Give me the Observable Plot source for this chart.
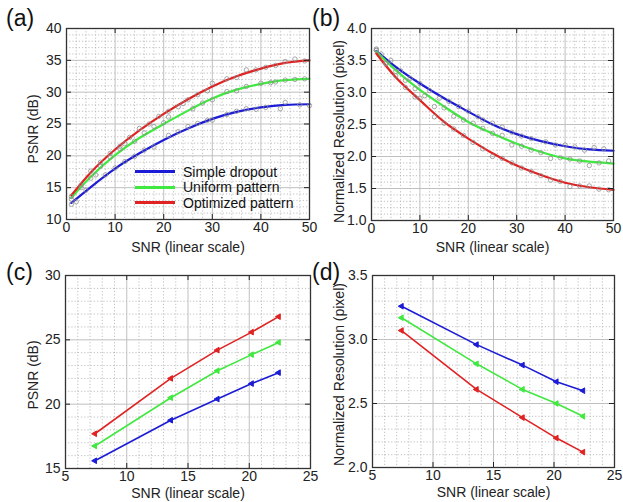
<!DOCTYPE html>
<html>
<head>
<meta charset="utf-8">
<script src="https://cdn.jsdelivr.net/npm/d3@7"></script>
<script src="https://cdn.jsdelivr.net/npm/@observablehq/plot@0.6"></script>
<style>
  html, body { margin: 0; padding: 0; background: #fff; }
  #root { position: relative; width: 623px; height: 502px; overflow: hidden; font-family: "Liberation Sans", Arial, sans-serif; }
  #root svg { position: absolute; overflow: visible; }
  .plabel { position: absolute; font-size: 23px; color: #111; line-height: 1; }
  .legend { position: absolute; font-size: 14px; color: #111; }
  .legend .row { display: flex; align-items: center; height: 15.5px; }
  .legend .sw { width: 40px; height: 3px; margin-right: 8px; }
</style>
</head>
<body>
<div id="root"></div>
<script>
// ---------- data ----------
const seriesNames = ["Simple dropout", "Uniform pattern", "Optimized pattern"];
const seriesColors = ["#1c1cd6", "#40e840", "#e02222"];

// (a) fitted PSNR curves vs SNR
const snrFit = [1, 5, 10, 15, 20, 25, 30, 35, 40, 45, 50];
const psnrSimple    = [12.6, 15.1, 18.0, 20.4, 22.5, 24.3, 25.8, 26.9, 27.6, 28.0, 28.1];
const psnrUniform   = [13.4, 16.7, 20.1, 22.8, 25.0, 27.1, 29.0, 30.4, 31.3, 31.9, 32.1];
const psnrOptimized = [13.8, 17.4, 21.0, 24.0, 26.6, 28.9, 30.9, 32.5, 33.7, 34.6, 35.0];

// (a) raw PSNR samples
const rawSnrSimpleA = [1, 2, 4, 6, 8, 10, 12, 14, 16, 18, 21, 23, 25, 27, 29, 30, 33, 35, 37, 39, 41, 44, 45, 48, 50];
const rawPsnrSimple = [12.4, 12.8, 14.6, 17.0, 17.0, 18.1, 19.1, 19.9, 20.9, 21.4, 23.2, 23.8, 24.6, 25.1, 25.6, 25.6, 26.5, 27.0, 27.4, 27.3, 27.6, 27.4, 28.4, 28.0, 27.9];
const rawSnrUniformA = [1, 3, 5, 7, 9, 11, 12, 14, 16, 18, 20, 21, 24, 26, 28, 30, 33, 35, 37, 40, 42, 43, 45, 47, 49];
const rawPsnrUniform = [13.2, 15.0, 16.5, 18.4, 19.8, 21.1, 21.9, 22.3, 23.6, 24.6, 25.2, 26.1, 28.2, 27.4, 28.3, 28.8, 30.1, 30.2, 30.9, 31.4, 31.5, 31.6, 31.9, 32.0, 32.1];
const rawSnrOptimizedA = [1, 3, 5, 7, 9, 11, 13, 15, 17, 19, 21, 23, 25, 27, 29, 30, 33, 35, 37, 39, 41, 43, 45, 47, 49];
const rawPsnrOptimized = [13.6, 15.4, 17.6, 19.0, 20.4, 21.5, 22.9, 24.3, 25.0, 26.2, 27.0, 27.7, 28.8, 29.6, 30.2, 31.4, 32.1, 32.3, 33.5, 33.5, 33.9, 34.2, 34.8, 35.2, 34.9];

// (b) fitted normalized resolution curves vs SNR
const resSimple    = [3.65, 3.40, 3.14, 2.91, 2.70, 2.50, 2.35, 2.24, 2.16, 2.11, 2.09];
const resUniform   = [3.64, 3.35, 3.04, 2.78, 2.54, 2.36, 2.20, 2.07, 1.97, 1.92, 1.89];
const resOptimized = [3.61, 3.24, 2.88, 2.54, 2.28, 2.05, 1.86, 1.71, 1.59, 1.52, 1.48];

// (b) raw resolution samples
const rawSnrSimpleB = [1, 2, 4, 6, 8, 10, 12, 14, 16, 18, 20, 22, 23, 25, 27, 29, 31, 33, 36, 38, 40, 42, 44, 46, 48];
const rawResSimple  = [3.68, 3.60, 3.50, 3.34, 3.22, 3.14, 3.03, 2.91, 2.86, 2.78, 2.71, 2.62, 2.57, 2.52, 2.46, 2.38, 2.32, 2.28, 2.23, 2.18, 2.18, 2.15, 2.10, 2.14, 2.12];
const rawSnrUniformB = [1, 3, 5, 7, 9, 11, 13, 15, 17, 19, 21, 23, 25, 27, 29, 31, 33, 35, 37, 39, 41, 43, 45, 47, 49];
const rawResUniform  = [3.66, 3.46, 3.33, 3.19, 3.06, 2.95, 2.78, 2.76, 2.63, 2.57, 2.52, 2.44, 2.36, 2.33, 2.18, 2.16, 2.10, 2.06, 1.97, 1.98, 1.96, 1.93, 1.86, 1.90, 1.93];
const rawSnrOptimizedB = [1, 3, 5, 7, 9, 10, 13, 15, 17, 19, 21, 23, 25, 27, 29, 31, 33, 35, 37, 39, 41, 43, 45, 47, 49];
const rawResOptimized  = [3.66, 3.45, 3.26, 3.08, 2.93, 2.91, 2.62, 2.52, 2.43, 2.33, 2.22, 2.12, 2.00, 1.97, 1.90, 1.82, 1.77, 1.70, 1.63, 1.61, 1.53, 1.54, 1.54, 1.49, 1.48];

// (c), (d) experimental points
const snrExp = [7.4, 13.6, 17.4, 20.2, 22.4];
const psnrExpSimple    = [15.6, 18.75, 20.4, 21.6, 22.45];
const psnrExpUniform   = [16.75, 20.5, 22.6, 23.85, 24.8];
const psnrExpOptimized = [17.7, 22.0, 24.2, 25.6, 26.8];
const resExpSimple    = [3.26, 2.96, 2.80, 2.67, 2.60];
const resExpUniform   = [3.17, 2.81, 2.61, 2.50, 2.40];
const resExpOptimized = [3.07, 2.61, 2.39, 2.23, 2.12];

// tick labels
const ticksSnr50 = [0, 10, 20, 30, 40, 50];
const ticksSnr25 = [5, 10, 15, 20, 25];
const ticksPsnrA = [10, 15, 20, 25, 30, 35, 40];
const ticksResB  = [1.0, 1.5, 2.0, 2.5, 3.0, 3.5, 4.0];
const ticksPsnrC = [15, 20, 25, 30];
const ticksResD  = [2.0, 2.5, 3.0, 3.5];

const xLabel = "SNR (linear scale)";
const yLabelPsnr = "PSNR (dB)";
const yLabelRes = "Normalized Resolution (pixel)";

// ---------- helpers ----------
function rows(xs, ys) { return xs.map((x, i) => ({x, y: ys[i]})); }
function minor(ticks, n) {
  const out = [];
  for (let i = 0; i < ticks.length - 1; i++) {
    const a = ticks[i], b = ticks[i + 1];
    for (let k = 1; k < n; k++) out.push(a + (b - a) * k / n);
  }
  return out;
}

function panel(o) {
  const fw = o.width - o.ml - o.mr, fh = o.height - o.mt - o.mb;
  const tickLen = 5;
  const gridC = "#c0c0c0";
  const marks = [
    Plot.ruleX(minor(o.xTicks, 5), {x: d => d, stroke: "#b0b0b0", strokeWidth: 0.8, strokeDasharray: "1.2,2"}),
    Plot.ruleY(minor(o.yTicks, 5), {y: d => d, stroke: "#b0b0b0", strokeWidth: 0.8, strokeDasharray: "1.2,2"}),
    Plot.ruleX(o.xTicks, {x: d => d, stroke: gridC, strokeWidth: 1}),
    Plot.ruleY(o.yTicks, {y: d => d, stroke: gridC, strokeWidth: 1}),
  ];
  for (const L of o.lines) {
    marks.push(Plot.line(L.data, {x: "x", y: "y", stroke: L.color, strokeWidth: o.lineWidth, curve: o.curve}));
    if (o.markers) {
      marks.push(Plot.dot(L.data, {x: "x", y: "y", symbol: "triangle", rotate: -90, r: 2.1, fill: L.color, stroke: L.color, strokeWidth: 1}));
    }
  }
  if (o.scatter) {
    marks.push(Plot.dot(o.scatter, {x: "x", y: "y", r: 2.2, stroke: "#8c8c8c", strokeOpacity: 0.85, strokeWidth: 0.9, fill: "none"}));
  }
  marks.push(
    Plot.tickX(o.xTicks, {x: d => d, insetTop: fh - tickLen, stroke: "#222"}),
    Plot.tickX(o.xTicks, {x: d => d, insetBottom: fh - tickLen, stroke: "#222"}),
    Plot.tickY(o.yTicks, {y: d => d, insetRight: fw - tickLen, stroke: "#222"}),
    Plot.tickY(o.yTicks, {y: d => d, insetLeft: fw - tickLen, stroke: "#222"}),
    Plot.frame({stroke: "#333", strokeWidth: 1.3}),
    Plot.axisX(o.xTicks, {tickSize: 0, tickPadding: 3, label: null, fontSize: 14, fill: "#222", tickFormat: d => String(d)}),
    Plot.axisY(o.yTicks, {tickSize: 0, tickPadding: 5, label: null, fontSize: 14, fill: "#222", tickFormat: o.yFormat}),
    Plot.text([o.xLabel], {frameAnchor: "bottom", dy: o.xLabelDy, textAnchor: "middle", lineAnchor: "middle", fontSize: 14, fill: "#222", text: d => d}),
    Plot.text([o.yLabel], {frameAnchor: "left", dx: -o.yLabelDx, dy: o.yLabelDy || 0, rotate: -90, textAnchor: "middle", lineAnchor: "middle", fontSize: 14, fill: "#222", text: d => d})
  );
  const svg = Plot.plot({
    width: o.width, height: o.height,
    marginLeft: o.ml, marginRight: o.mr, marginTop: o.mt, marginBottom: o.mb,
    style: {fontFamily: '"Liberation Sans", Arial, sans-serif', fontSize: "14px", background: "transparent", overflow: "visible"},
    x: {domain: o.xDomain},
    y: {domain: o.yDomain},
    marks
  });
  svg.style.left = o.left + "px";
  svg.style.top = o.top + "px";
  return svg;
}

const root = document.getElementById("root");
const fmt1 = d3.format(".1f");
const fmt0 = d => String(d);

// (a)
root.appendChild(panel({
  left: 0, top: 0, width: 312, height: 256, ml: 66, mr: 3, mt: 28, mb: 37,
  xDomain: [0, 50], yDomain: [10, 40], xTicks: ticksSnr50, yTicks: ticksPsnrA, yFormat: fmt0,
  xLabel, yLabel: yLabelPsnr, xLabelDy: 28, yLabelDx: 33, yLabelDy: 5, lineWidth: 2.2, curve: "natural",
  scatter: [...rows(rawSnrSimpleA, rawPsnrSimple), ...rows(rawSnrUniformA, rawPsnrUniform), ...rows(rawSnrOptimizedA, rawPsnrOptimized)],
  lines: [
    {data: rows(snrFit, psnrSimple), color: seriesColors[0]},
    {data: rows(snrFit, psnrUniform), color: seriesColors[1]},
    {data: rows(snrFit, psnrOptimized), color: seriesColors[2]},
  ]
}));

// (b)
root.appendChild(panel({
  left: 311, top: 0, width: 312, height: 256, ml: 60, mr: 10, mt: 28, mb: 36,
  xDomain: [0, 50], yDomain: [1, 4], xTicks: ticksSnr50, yTicks: ticksResB, yFormat: fmt1,
  xLabel, yLabel: yLabelRes, xLabelDy: 27, yLabelDx: 32, yLabelDy: 7, lineWidth: 2.2, curve: "natural",
  scatter: [...rows(rawSnrSimpleB, rawResSimple), ...rows(rawSnrUniformB, rawResUniform), ...rows(rawSnrOptimizedB, rawResOptimized)],
  lines: [
    {data: rows(snrFit, resSimple), color: seriesColors[0]},
    {data: rows(snrFit, resUniform), color: seriesColors[1]},
    {data: rows(snrFit, resOptimized), color: seriesColors[2]},
  ]
}));

// (c)
root.appendChild(panel({
  left: 0, top: 250, width: 312, height: 252, ml: 65, mr: 2, mt: 25, mb: 34,
  xDomain: [5, 25], yDomain: [15, 30], xTicks: ticksSnr25, yTicks: ticksPsnrC, yFormat: fmt0,
  xLabel, yLabel: yLabelPsnr, xLabelDy: 25, yLabelDx: 32, yLabelDy: 3, lineWidth: 1.6, curve: "linear", markers: true,
  lines: [
    {data: rows(snrExp, psnrExpSimple), color: seriesColors[0]},
    {data: rows(snrExp, psnrExpUniform), color: seriesColors[1]},
    {data: rows(snrExp, psnrExpOptimized), color: seriesColors[2]},
  ]
}));

// (d)
root.appendChild(panel({
  left: 311, top: 250, width: 312, height: 252, ml: 61, mr: 9, mt: 25, mb: 35,
  xDomain: [5, 25], yDomain: [2, 3.5], xTicks: ticksSnr25, yTicks: ticksResD, yFormat: fmt1,
  xLabel, yLabel: yLabelRes, xLabelDy: 25, yLabelDx: 33, yLabelDy: 3, lineWidth: 1.6, curve: "linear", markers: true,
  lines: [
    {data: rows(snrExp, resExpSimple), color: seriesColors[0]},
    {data: rows(snrExp, resExpUniform), color: seriesColors[1]},
    {data: rows(snrExp, resExpOptimized), color: seriesColors[2]},
  ]
}));

// panel letters
[["(a)", 6, 7], ["(b)", 312, 7], ["(c)", 6, 261], ["(d)", 312, 261]].forEach(([t, x, y]) => {
  const d = document.createElement("div");
  d.className = "plabel"; d.textContent = t;
  d.style.left = x + "px"; d.style.top = y + "px";
  root.appendChild(d);
});

// legend in (a)
const leg = document.createElement("div");
leg.className = "legend";
leg.style.left = "135px"; leg.style.top = "164px";
seriesNames.forEach((name, i) => {
  const r = document.createElement("div"); r.className = "row";
  const sw = document.createElement("div"); sw.className = "sw"; sw.style.background = seriesColors[i];
  const tx = document.createElement("span"); tx.textContent = name;
  r.appendChild(sw); r.appendChild(tx); leg.appendChild(r);
});
root.appendChild(leg);
</script>
</body>
</html>
